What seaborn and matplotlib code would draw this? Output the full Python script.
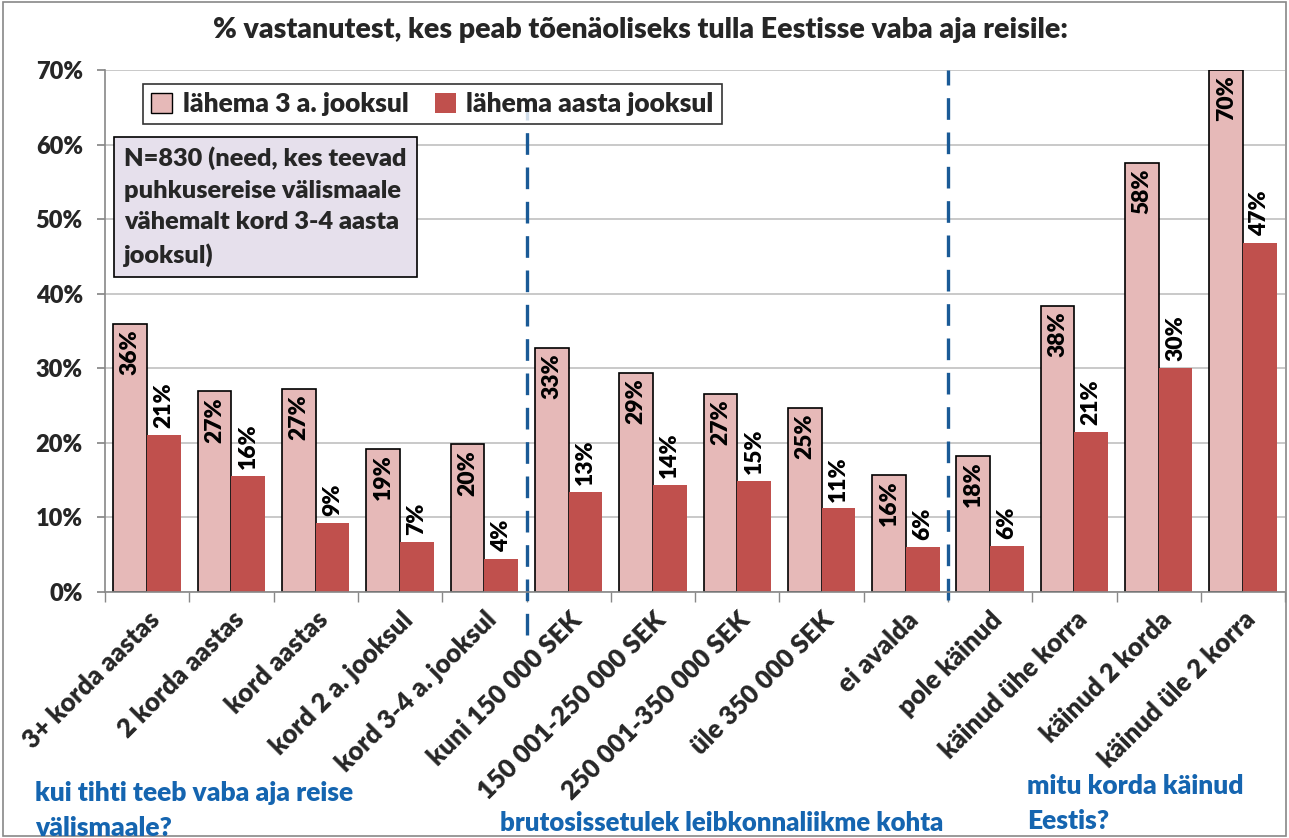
import numpy as np
import pandas as pd
import seaborn as sns
from matplotlib import pyplot as plt
from matplotlib.patches import Patch, Rectangle
from matplotlib.lines import Line2D
import matplotlib.transforms as mtransforms

# Data
categories = ["3+ korda aastas", "2 korda aastas", "kord aastas", "kord 2 a. jooksul",
              "kord 3-4 a. jooksul", "kuni 150 000 SEK", "150 001-250 000 SEK",
              "250 001-350 000 SEK", "üle 350 000 SEK", "ei avalda", "pole käinud",
              "käinud ühe korra", "käinud 2 korda", "käinud üle 2 korra"]
within_3y = [35.9, 26.9, 27.2, 19.2, 19.8, 32.7, 29.4, 26.6, 24.7, 15.7, 18.3, 38.4, 57.5, 70.0]
within_1y = [21.0, 15.5, 9.2, 6.7, 4.4, 13.4, 14.3, 14.9, 11.2, 6.0, 6.2, 21.4, 30.0, 46.8]
series_names = ["lähema 3 a. jooksul", "lähema aasta jooksul"]
colors = ["#e6b9b8", "#c0504d"]

df = pd.DataFrame({
    "cat": categories * 2,
    "series": [series_names[0]] * len(categories) + [series_names[1]] * len(categories),
    "value": within_3y + within_1y,
})

W = "heavy"
sns.set_theme(style="white")
plt.rcParams["font.family"] = ["Lato", "DejaVu Sans"]
plt.rcParams["font.weight"] = W

fig = plt.figure(figsize=(12.89, 8.38), dpi=100)
ax = fig.add_axes([0.0815, 0.2936, 0.9155, 0.6229])

sns.barplot(data=df, x="cat", y="value", hue="series", order=categories,
            hue_order=series_names, palette=colors, width=0.8, saturation=1,
            legend=False, ax=ax)

# outlines on the light bars only
for p in ax.containers[0]:
    p.set_edgecolor("black")
    p.set_linewidth(1.2)
for p in ax.containers[1]:
    p.set_edgecolor("none")

# value labels
for p in ax.containers[0]:
    h = p.get_height()
    ax.annotate(f"{h:.0f}%", (p.get_x() + p.get_width() / 2, h), xytext=(0, -4),
                textcoords="offset points", rotation=90, ha="center", va="top",
                fontsize=16.5, fontweight=W, color="black")
for p in ax.containers[1]:
    h = p.get_height()
    ax.annotate(f"{h:.0f}%", (p.get_x() + p.get_width() / 2, h), xytext=(0, 5),
                textcoords="offset points", rotation=90, ha="center", va="bottom",
                fontsize=16.5, fontweight=W, color="black")

ax.set_ylim(0, 70)
ax.set_xlim(-0.5, len(categories) - 0.5)
ax.set_yticks(range(0, 71, 10))
ax.set_yticklabels([f"{v}%" for v in range(0, 71, 10)], fontsize=17, fontweight=W)
ax.yaxis.grid(True, color="#c0c0c0", linewidth=1.2)
ax.set_axisbelow(True)
ax.tick_params(axis="y", length=6, color="#888888", direction="out", left=True, pad=10)

ax.set_xticks(range(len(categories)))
ax.set_xticklabels(categories, rotation=45, ha="right", rotation_mode="anchor",
                   fontsize=18.5, fontweight=W)
ax.set_xticks(np.arange(-0.5, len(categories), 1), minor=True)
ax.tick_params(axis="x", which="major", length=0, pad=11)
ax.tick_params(axis="x", which="minor", length=7, color="#888888", direction="out", bottom=True)
ax.set_xlabel("")
ax.set_ylabel("")

for s in ["top", "right"]:
    ax.spines[s].set_visible(False)
for s in ["left", "bottom"]:
    ax.spines[s].set_color("#888888")
    ax.spines[s].set_linewidth(1.2)

fig.suptitle("% vastanutest, kes peab tõenäoliseks tulla Eestisse vaba aja reisile:",
             x=0.497, y=0.964, va="center", fontsize=20.5, fontweight=W)

# legend
handles = [Patch(facecolor=colors[0], edgecolor="black", linewidth=1),
           Patch(facecolor=colors[1], edgecolor="none")]
leg = ax.legend(handles, series_names, loc="upper left", bbox_to_anchor=(0.021, 0.998),
                ncol=2, frameon=True, fancybox=False, handlelength=0.8,
                handleheight=0.8, handletextpad=0.4, columnspacing=1.0,
                borderpad=0.3, prop={"weight": W, "size": 19})
leg.get_frame().set_edgecolor("black")
leg.get_frame().set_linewidth(1.2)

# sample note box
ax.text(0.016, 0.853, "N=830 (need, kes teevad\npuhkusereise välismaale\nvähemalt kord 3-4 aasta\njooksul)",
        transform=ax.transAxes, ha="left", va="top", fontsize=18.2, fontweight=W,
        linespacing=1.52,
        bbox=dict(boxstyle="square,pad=0.4", facecolor="#e6e0ec", edgecolor="black", linewidth=1.2))

# group separators
trans = mtransforms.blended_transform_factory(ax.transData, ax.transAxes)
for xpos, y0, y1 in [(4.5, -0.082, 0.948), (9.5, -0.015, 1.0)]:
    ax.add_line(Line2D([xpos, xpos], [y0, y1], transform=trans, color="#1a5a96",
                       linestyle=(0, (6.5, 3.8)), linewidth=2.4, clip_on=False))

# group captions
blue = "#1565b0"
fig.text(0.027, 0.068, "kui tihti teeb vaba aja reise\nvälismaale?", ha="left", va="top",
         fontsize=19, fontweight=W, color=blue, linespacing=1.55)
fig.text(0.388, 0.018, "brutosissetulek leibkonnaliikme kohta", ha="left", va="center",
         fontsize=18.5, fontweight=W, color=blue)
fig.text(0.797, 0.076, "mitu korda käinud\nEestis?", ha="left", va="top",
         fontsize=19, fontweight=W, color=blue, linespacing=1.55)

# outer chart border
fig.patches.append(Rectangle((0.002, 0.002), 0.996, 0.996, transform=fig.transFigure,
                             fill=False, edgecolor="#888888", linewidth=1.2))

fig.savefig("out.png", dpi=100)
